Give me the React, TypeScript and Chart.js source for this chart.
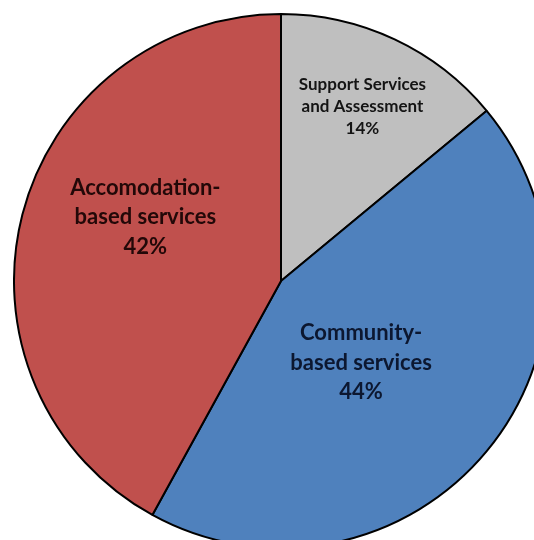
import React, { useEffect, useRef } from "react";
import { Chart, registerables } from "chart.js";

Chart.register(...registerables);

const categories = ["Support Services and Assessment", "Community-based services", "Accomodation-based services"];
const values = [14, 44, 42];
const labelLines = [
  ["Support Services", "and Assessment", "14%"],
  ["Community-", "based services", "44%"],
  ["Accomodation-", "based services", "42%"],
];
const colors = ["#BFBFBF", "#4F81BD", "#C0504D"];
const textColors = ["#141414", "#0c1730", "#220808"];
// label anchor as fraction of radius (dx, dy) from centre
const labelAnchors = [
  [0.305, -0.655],
  [0.30, 0.305],
  [-0.508, -0.24],
];
const fontSizes = [17, 22, 22];
const lineGaps = [22, 29.5, 29.5];

const labelPlugin = {
  id: "sliceLabels",
  afterDatasetsDraw(chart: any) {
    const ctx = chart.ctx;
    const meta = chart.getDatasetMeta(0);
    meta.data.forEach((arc: any, i: number) => {
      const r = arc.outerRadius;
      const cx = arc.x + labelAnchors[i][0] * r;
      const cy = arc.y + labelAnchors[i][1] * r;
      const lines = labelLines[i];
      ctx.save();
      ctx.font = `bold ${fontSizes[i]}px Lato, sans-serif`;
      ctx.fillStyle = textColors[i];
      ctx.textAlign = "center";
      ctx.textBaseline = "middle";
      const g = lineGaps[i];
      lines.forEach((ln, k) => {
        ctx.fillText(ln, cx, cy + (k - (lines.length - 1) / 2) * g);
      });
      ctx.restore();
    });
  },
};

export default function App() {
  const ref = useRef<HTMLCanvasElement>(null);
  useEffect(() => {
    if (!ref.current) return;
    const chart = new Chart(ref.current, {
      type: "pie",
      data: {
        labels: categories,
        datasets: [
          {
            data: values,
            backgroundColor: colors,
            borderColor: "#000000",
            borderWidth: 2,
          },
        ],
      },
      options: {
        animation: false,
        responsive: false,
        events: [],
        plugins: { legend: { display: false }, tooltip: { enabled: false } },
        layout: { padding: 0 },
      },
      plugins: [labelPlugin],
    });
    return () => chart.destroy();
  }, []);
  return (
    <div style={{ position: "fixed", left: 0, top: 0, width: "100vw", height: "100vh", overflow: "hidden", background: "#fff" }}>
      <canvas ref={ref} width={536} height={536} style={{ position: "absolute", left: 13, top: 13, width: 536, height: 536 }} />
    </div>
  );
}
